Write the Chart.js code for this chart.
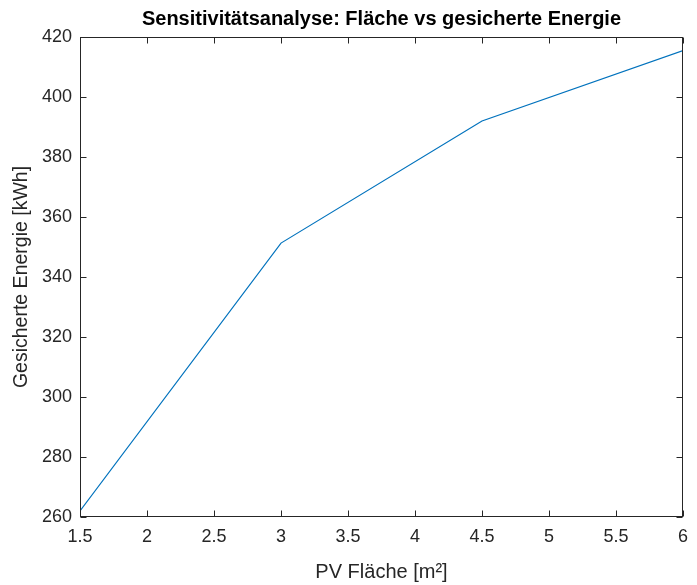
<!DOCTYPE html>
<html>
<head>
<meta charset="utf-8">
<script src="https://cdn.jsdelivr.net/npm/chart.js@4/dist/chart.umd.min.js"></script>
<style>
  html, body { margin: 0; padding: 0; background: #ffffff; }
  canvas { display: block; }
</style>
</head>
<body>
<canvas id="c" width="697" height="585"></canvas>
<script>
// ---- data ----
const pvArea = [1.5, 3, 4.5, 6];
const energy = [262, 351.3, 392, 415.5];
const xTicks = [1.5, 2, 2.5, 3, 3.5, 4, 4.5, 5, 5.5, 6];
const yTicks = [260, 280, 300, 320, 340, 360, 380, 400, 420];
const chartTitle = 'Sensitivitätsanalyse: Fläche vs gesicherte Energie';
const xLabel = 'PV Fläche [m²]';
const yLabel = 'Gesicherte Energie [kWh]';

const FONT = '"Liberation Sans", Arial, Helvetica, sans-serif';
const AXIS_COLOR = '#262626';

const points = pvArea.map((x, i) => ({ x: x, y: energy[i] }));

const boxPlugin = {
  id: 'matlabBox',
  afterDraw(chart) {
    const { ctx, chartArea: a, scales } = chart;
    ctx.save();
    ctx.strokeStyle = AXIS_COLOR;
    ctx.lineWidth = 1;
    const L = Math.round(a.left) + 0.5, R = Math.round(a.right) - 0.5;
    const T = Math.round(a.top) + 0.5, B = Math.round(a.bottom) - 0.5;
    ctx.strokeRect(L, T, R - L, B - T);
    const tl = 6;
    ctx.beginPath();
    xTicks.forEach(v => {
      const px = Math.round(scales.x.getPixelForValue(v)) + 0.5;
      ctx.moveTo(px, B); ctx.lineTo(px, B - tl);
      ctx.moveTo(px, T); ctx.lineTo(px, T + tl);
    });
    yTicks.forEach(v => {
      const py = Math.round(scales.y.getPixelForValue(v)) + 0.5;
      ctx.moveTo(L, py); ctx.lineTo(L + tl, py);
      ctx.moveTo(R, py); ctx.lineTo(R - tl, py);
    });
    ctx.stroke();
    // title
    ctx.fillStyle = '#000000';
    ctx.font = 'bold 20px ' + FONT;
    ctx.textAlign = 'center';
    ctx.textBaseline = 'middle';
    ctx.fillText(chartTitle, (a.left + a.right) / 2, 19);
    ctx.restore();
  }
};

new Chart(document.getElementById('c'), {
  type: 'line',
  data: {
    datasets: [{
      data: points,
      borderColor: '#0072BD',
      borderWidth: 1.2,
      pointRadius: 0,
      tension: 0,
      fill: false
    }]
  },
  options: {
    responsive: false,
    animation: false,
    devicePixelRatio: 1,
    layout: { padding: { top: 37, right: 5, left: 0, bottom: 0 } },
    plugins: {
      legend: { display: false },
      tooltip: { enabled: false },
      title: { display: false }
    },
    scales: {
      x: {
        type: 'linear',
        min: 1.5, max: 6,
        grid: { display: false, drawTicks: false },
        border: { display: false },
        afterBuildTicks: s => { s.ticks = xTicks.map(v => ({ value: v })); },
        ticks: {
          color: AXIS_COLOR,
          font: { family: FONT, size: 18 },
          padding: 9,
          maxRotation: 0,
          autoSkip: false,
          callback: v => String(v)
        },
        title: {
          display: true,
          text: xLabel,
          color: AXIS_COLOR,
          font: { family: FONT, size: 20 },
          padding: { top: 0, bottom: 1 }
        },
        afterFit: s => { s.height = 68; }
      },
      y: {
        min: 260, max: 420,
        grid: { display: false, drawTicks: false },
        border: { display: false },
        afterBuildTicks: s => { s.ticks = yTicks.map(v => ({ value: v })); },
        ticks: {
          color: AXIS_COLOR,
          font: { family: FONT, size: 18 },
          padding: 8,
          autoSkip: false,
          callback: v => String(v)
        },
        title: {
          display: true,
          text: yLabel,
          color: AXIS_COLOR,
          font: { family: FONT, size: 19.5 },
          padding: { top: 10, bottom: 0 }
        },
        afterFit: s => { s.width = 80; }
      }
    }
  },
  plugins: [boxPlugin]
});
</script>
</body>
</html>
